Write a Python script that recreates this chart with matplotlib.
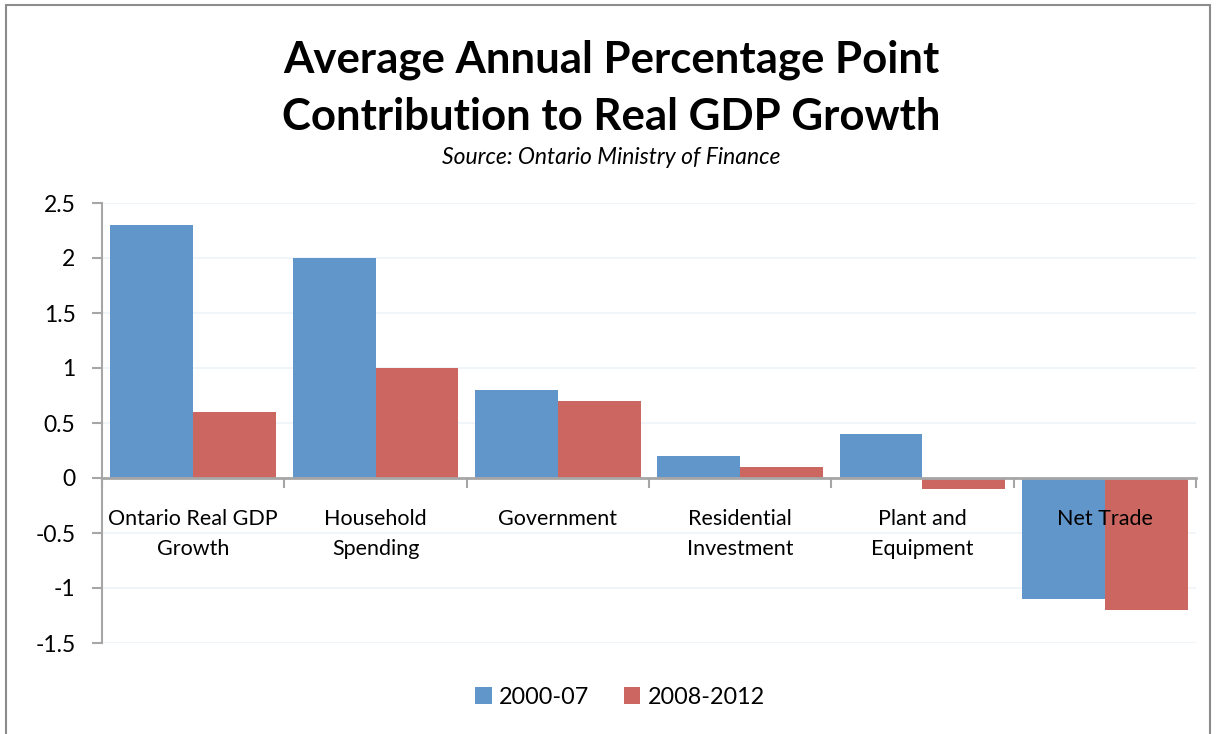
import matplotlib
matplotlib.use("Agg")
import matplotlib.pyplot as plt
from matplotlib.patches import Rectangle
import numpy as np

# 數據
categories = ["Ontario Real GDP\nGrowth", "Household\nSpending", "Government",
              "Residential\nInvestment", "Plant and\nEquipment", "Net Trade"]
series_names = ["2000-07", "2008-2012"]
values_2000_07 = [2.3, 2.0, 0.8, 0.2, 0.4, -1.1]
values_2008_2012 = [0.6, 1.0, 0.7, 0.1, -0.1, -1.2]
y_ticks = [-1.5, -1, -0.5, 0, 0.5, 1, 1.5, 2, 2.5]
y_tick_labels = ["-1.5", "-1", "-0.5", "0", "0.5", "1", "1.5", "2", "2.5"]

BLUE = "#6096C9"
RED = "#CC6660"
AXIS_GRAY = "#A6A6A6"

plt.rcParams['font.family'] = ['Lato', 'DejaVu Sans']

fig = plt.figure(figsize=(12.16, 7.34), dpi=100)
ax = fig.add_axes([102 / 1216, 1 - 643 / 734, (1196 - 102) / 1216, (643 - 203) / 734])

# 外框
fig.patches.append(Rectangle((6 / 1216, -0.01), (1210 - 6) / 1216, 1 - 5 / 734 + 0.01,
                             transform=fig.transFigure, fill=False,
                             edgecolor="#8C8C8C", linewidth=1.5))

x = np.arange(len(categories))
w = 0.455
ax.bar(x - w / 2, values_2000_07, w, color=BLUE, label=series_names[0], zorder=2)
ax.bar(x + w / 2, values_2008_2012, w, color=RED, label=series_names[1], zorder=2)

ax.set_xlim(-0.5, len(categories) - 0.5)
ax.set_ylim(-1.5, 2.5)
ax.set_yticks(y_ticks)
ax.set_yticklabels(y_tick_labels, fontsize=16.5)
ax.yaxis.grid(True, color="#EEF3F8", linewidth=1.2, zorder=0)
ax.set_axisbelow(True)

# 軸線
for s in ["top", "right"]:
    ax.spines[s].set_visible(False)
ax.spines["left"].set_color(AXIS_GRAY)
ax.spines["left"].set_linewidth(1.5)
ax.spines["bottom"].set_position(("data", 0))
ax.spines["bottom"].set_color(AXIS_GRAY)
ax.spines["bottom"].set_linewidth(2)
ax.spines["bottom"].set_zorder(3)
ax.set_xticks(np.arange(-0.5, len(categories), 1.0))
ax.set_xticklabels([])
ax.tick_params(axis="x", direction="out", length=7, color=AXIS_GRAY, width=1.5)
ax.tick_params(axis="y", direction="out", length=7, color=AXIS_GRAY, width=1.5, pad=12)

# 類別標籤
for xi, label in zip(x, categories):
    ax.annotate(label, xy=(xi, 0), xytext=(0, -22.5), textcoords="offset points",
                ha="center", va="top", fontsize=15.5, linespacing=1.6, zorder=5)

# 標題
fig.text(611 / 1216, 1 - 60 / 734, "Average Annual Percentage Point",
         ha="center", va="center", fontsize=31.5, fontweight="bold")
fig.text(611 / 1216, 1 - 117 / 734, "Contribution to Real GDP Growth",
         ha="center", va="center", fontsize=31.5, fontweight="bold")
fig.text(611 / 1216, 1 - 157 / 734, "Source: Ontario Ministry of Finance",
         ha="center", va="center", fontsize=16.5, style="italic")

fig.legend(loc="center", bbox_to_anchor=(620 / 1216, 1 - 697 / 734), ncol=2,
           frameon=False, fontsize=16.8, handlelength=0.7, handleheight=0.7,
           handletextpad=0.3, columnspacing=1.5)

plt.savefig("out.png", dpi=100)
